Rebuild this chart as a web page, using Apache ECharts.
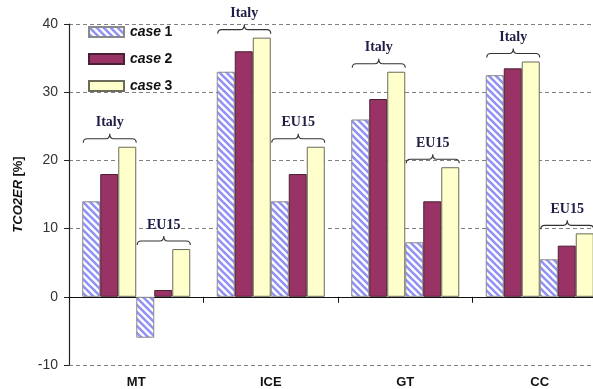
<!DOCTYPE html>
<html>
<head>
<meta charset="utf-8">
<script src="https://cdn.jsdelivr.net/npm/echarts@6/dist/echarts.min.js"></script>
<style>
  html, body { margin: 0; padding: 0; background: #fff; }
  #chart { width: 593px; height: 389px; }
</style>
</head>
<body>
<div id="chart"></div>
<script>
// Technologies on the category axis
const categories = ['MT', 'ICE', 'GT', 'CC'];
// Reference regions, one bracketed group of bars per region
const regions = ['Italy', 'EU15'];
const caseNames = ['case 1', 'case 2', 'case 3'];

// TCO2ER [%] per technology, Italy
const italyCase1 = [14, 33, 26, 32.5];
const italyCase2 = [18, 36, 29, 33.5];
const italyCase3 = [22, 38, 33, 34.5];
// TCO2ER [%] per technology, EU15
const eu15Case1 = [-6, 14, 8, 5.5];
const eu15Case2 = [1, 18, 14, 7.5];
const eu15Case3 = [7, 22, 19, 9.3];

// Value axis range
const yMin = -10, yMax = 40, yStep = 10;

const BAR_W = 18;

// diagonal hatch fill for case 1
function hatchPattern() {
  const s = 7;
  const c = document.createElement('canvas');
  c.width = s; c.height = s;
  const g = c.getContext('2d');
  g.fillStyle = '#ffffff';
  g.fillRect(0, 0, s, s);
  g.strokeStyle = '#9292f4';
  g.lineWidth = 2.6;
  for (let k = -1; k <= 1; k++) {
    g.beginPath();
    g.moveTo(k * s - 1, -1);
    g.lineTo(k * s + s + 1, s + 1);
    g.stroke();
  }
  return c;
}

const caseStyles = [
  { color: { image: hatchPattern(), repeat: 'repeat' }, borderColor: '#8a8a8a', borderWidth: 1 },
  { color: '#993366', borderColor: '#4a2035', borderWidth: 1 },
  { color: '#ffffcc', borderColor: '#6b6b5a', borderWidth: 1 }
];

const italy = [italyCase1, italyCase2, italyCase3];
const eu15 = [eu15Case1, eu15Case2, eu15Case3];

const barSeries = [];
[italy, eu15].forEach(function (grp) {
  grp.forEach(function (vals, k) {
    barSeries.push({
      type: 'bar',
      name: caseNames[k],
      xAxisIndex: 0,
      barWidth: BAR_W,
      barGap: '0%',
      itemStyle: caseStyles[k],
      emphasis: { disabled: true },
      data: vals
    });
  });
});

// one bracket per (technology, region), sitting above the tallest bar of the group
const braceData = [];
categories.forEach(function (c, i) {
  [italy, eu15].forEach(function (grp, r) {
    const top = Math.max(grp[0][i], grp[1][i], grp[2][i]);
    braceData.push([i, r, top]);
  });
});

function renderBrace(params, api) {
  const ci = api.value(0), r = api.value(1), v = api.value(2);
  const p = api.coord([ci, v]);
  const L = p[0] - 3 * BAR_W + r * 3 * BAR_W + 1;
  const R = L + 3 * BAR_W - 1;
  const cx = (L + R) / 2;
  const y = p[1] - 8;
  const d = 'M' + L + ',' + (y + 4) +
    ' Q' + L + ',' + y + ' ' + (L + 4) + ',' + y +
    ' L' + (cx - 4) + ',' + y +
    ' Q' + cx + ',' + y + ' ' + cx + ',' + (y - 5) +
    ' Q' + cx + ',' + y + ' ' + (cx + 4) + ',' + y +
    ' L' + (R - 4) + ',' + y +
    ' Q' + R + ',' + y + ' ' + R + ',' + (y + 4);
  return {
    type: 'group',
    children: [
      {
        type: 'path',
        shape: { pathData: d },
        style: { fill: null, stroke: '#333333', lineWidth: 1.1 }
      },
      {
        type: 'text',
        style: {
          text: regions[r],
          x: cx, y: y - 16,
          align: 'center', verticalAlign: 'middle',
          font: 'bold 14px "Liberation Serif", serif',
          fill: '#1d1d45'
        }
      }
    ]
  };
}

const chart = echarts.init(document.getElementById('chart'), null, { renderer: 'canvas' });

const sansBold = { fontFamily: '"Liberation Sans", Arial', fontWeight: 'bold', fontSize: 14, color: '#111' };
const sansBoldItalic = Object.assign({}, sansBold, { fontStyle: 'italic' });

chart.setOption({
  animation: false,
  backgroundColor: '#ffffff',
  // the plot runs a little past the right edge of the canvas
  grid: { left: 69, top: 24, width: 538, bottom: 24, containLabel: false, outerBoundsMode: 'none' },
  legend: {
    data: caseNames,
    orient: 'vertical',
    left: 88, top: 25,
    padding: 0,
    icon: 'rect',
    itemWidth: 35, itemHeight: 10,
    itemGap: 13,
    selectedMode: false,
    formatter: function (name) {
      const parts = name.split(' ');
      return '{i|' + parts[0] + '} {n|' + parts[1] + '}';
    },
    textStyle: {
      padding: [0, 0, 0, 1],
      rich: { i: sansBoldItalic, n: sansBold }
    }
  },
  xAxis: [
    {
      type: 'category',
      data: categories,
      position: 'top',
      axisLine: { onZero: true, lineStyle: { color: '#111', width: 1 } },
      axisTick: { show: true, inside: true, length: 6, lineStyle: { color: '#111' } },
      axisLabel: { show: false },
      splitLine: { show: false }
    },
    {
      type: 'category',
      data: categories,
      position: 'bottom',
      axisLine: { show: false, onZero: false },
      axisTick: { show: false },
      axisLabel: Object.assign({ margin: 11 }, sansBold, { fontSize: 13 })
    }
  ],
  yAxis: {
    type: 'value',
    min: yMin, max: yMax, interval: yStep,
    name: '{i|TCO2ER} {b|[%]}',
    nameLocation: 'middle',
    nameGap: 44,
    nameRotate: 90,
    nameTextStyle: {
      rich: {
        i: Object.assign({}, sansBoldItalic, { fontSize: 13 }),
        b: Object.assign({}, sansBold, { fontSize: 13 })
      }
    },
    axisLine: { show: true, lineStyle: { color: '#222', width: 1.2 } },
    axisTick: { show: true, length: 5, lineStyle: { color: '#222' } },
    axisLabel: { margin: 11, fontFamily: '"Liberation Sans", Arial', fontSize: 14, color: '#333' },
    splitLine: { show: true, lineStyle: { color: '#808080', type: [4, 3], width: 1 } }
  },
  series: barSeries.concat([{
    type: 'custom',
    name: 'brackets',
    xAxisIndex: 0,
    silent: true,
    clip: false,
    z: 5,
    encode: { x: 0, y: 2 },
    renderItem: renderBrace,
    data: braceData
  }])
});
</script>
</body>
</html>
